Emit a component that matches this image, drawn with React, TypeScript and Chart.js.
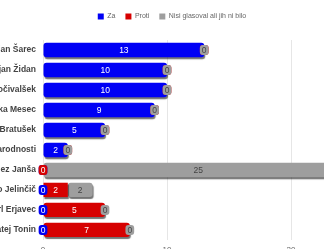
import React, { useEffect, useRef } from 'react';
import { Chart, registerables } from 'chart.js';

Chart.register(...registerables);

const categories = [
  'Marjan Šarec',
  'Dejan Židan',
  'Zdravko Počivalšek',
  'Luka Mesec',
  'Alenka Bratušek',
  'Narodnosti',
  'Janez Janša',
  'Zmago Jelinčič',
  'Karl Erjavec',
  'Matej Tonin',
];
const seriesNames = ['Za', 'Proti', 'Nisi glasoval ali jih ni bilo'];
const zaValues = [13, 10, 10, 9, 5, 2, 0, 0, 0, 0];
const protiValues = [0, 0, 0, 0, 0, 0, 0, 2, 5, 7];
const nisiValues = [0, 0, 0, 0, 0, 0, 25, 2, 0, 0];
const xTickStep = 10;
const xMax = 24.27;

const barColors = ['#0000f5', '#d60000', '#9e9e9e'];
const labelColors = ['#ffffff', '#ffffff', '#444444'];

const legendGap = {
  id: 'legendGap',
  beforeInit(chart: any) {
    const legend = chart.legend;
    if (!legend) return;
    const orig = legend.fit;
    legend.fit = function () {
      orig.call(this);
      this.height += 10;
    };
  },
};

const valueLabels = {
  id: 'valueLabels',
  beforeDatasetsDraw(chart: any) {
    const ctx = chart.ctx;
    ctx.save();
    ctx.shadowColor = 'rgba(0,0,0,0.55)';
    ctx.shadowOffsetX = 1;
    ctx.shadowOffsetY = 2;
    ctx.shadowBlur = 1;
  },
  afterDatasetsDraw(chart: any) {
    const ctx = chart.ctx;
    ctx.restore();
    ctx.save();
    ctx.font = '8.5px "Liberation Sans", Arial, sans-serif';
    ctx.textAlign = 'center';
    ctx.textBaseline = 'middle';
    chart.data.datasets.forEach((ds: any, di: number) => {
      const meta = chart.getDatasetMeta(di);
      meta.data.forEach((bar: any, i: number) => {
        const v = ds.data[i];
        const p = bar.getProps(['x', 'y', 'base'], true);
        const cx = (p.x + p.base) / 2;
        const text = String(v);
        const w = ctx.measureText(text).width + 4;
        const h = 10;
        ctx.fillStyle = barColors[di];
        ctx.beginPath();
        ctx.roundRect(cx - w / 2, p.y - h / 2, w, h, 3);
        ctx.fill();
        ctx.fillStyle = labelColors[di];
        ctx.fillText(text, cx, p.y + 0.5);
      });
    });
    ctx.restore();
  },
};

export default function App() {
  const ref = useRef<HTMLCanvasElement | null>(null);
  useEffect(() => {
    document.body.style.margin = '0';
    document.body.style.overflow = 'hidden';
    const chart = new Chart(ref.current as HTMLCanvasElement, {
      type: 'bar',
      data: {
        labels: categories,
        datasets: [
          { label: seriesNames[0], data: zaValues, backgroundColor: barColors[0] },
          { label: seriesNames[1], data: protiValues, backgroundColor: barColors[1] },
          { label: seriesNames[2], data: nisiValues, backgroundColor: barColors[2] },
        ],
      },
      options: {
        indexAxis: 'y',
        animation: false,
        responsive: false,
        layout: { padding: { top: 3, left: 0, right: 0, bottom: 0 } },
        datasets: { bar: { borderRadius: 3, borderSkipped: false } },
        plugins: {
          legend: {
            position: 'top',
            labels: {
              boxWidth: 6,
              boxHeight: 6,
              padding: 10,
              color: '#666',
              font: { size: 7 },
            },
          },
          tooltip: { enabled: false },
        },
        scales: {
          x: {
            stacked: true,
            min: 0,
            max: xMax,
            grid: { color: '#e6e6e6', drawTicks: false },
            border: { display: false },
            ticks: { stepSize: xTickStep, includeBounds: false, padding: 5, color: '#666', font: { size: 8 } },
            afterFit(scale: any) {
              scale.height = 9;
            },
          },
          y: {
            stacked: true,
            grid: { display: false, drawTicks: false },
            border: { display: false },
            ticks: { padding: 7, color: '#444', font: { size: 8.5, weight: 'bold' } },
            afterFit(scale: any) {
              scale.width = 43;
            },
          },
        },
      },
      plugins: [legendGap, valueLabels],
    } as any);
    return () => chart.destroy();
  }, []);
  return (
    <div style={{ position: 'fixed', left: 0, top: 0, width: 324, height: 252, overflow: 'hidden', background: '#fff' }}>
      <canvas ref={ref} width={344} height={252} />
    </div>
  );
}
